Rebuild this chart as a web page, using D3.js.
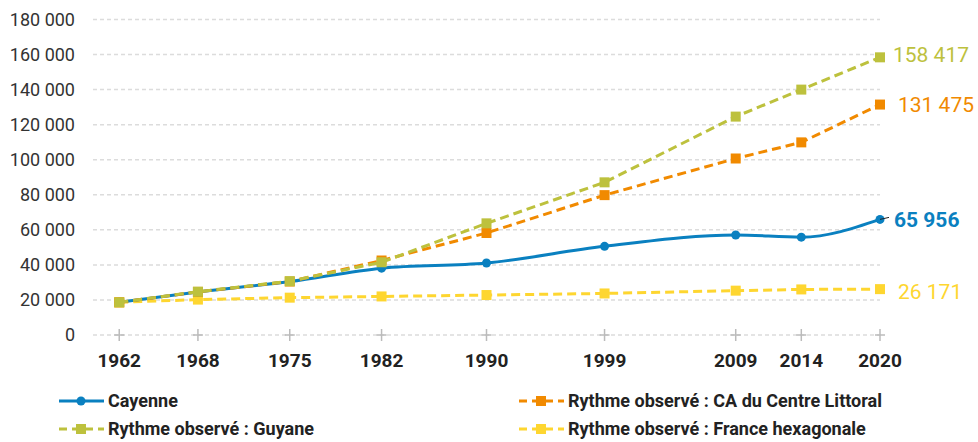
<!DOCTYPE html>
<html>
<head>
<meta charset="utf-8">
<script src="https://cdn.jsdelivr.net/npm/d3@7"></script>
<style>
  body { margin: 0; background: #fff; }
  #chart text { font-family: Roboto, "Noto Sans", sans-serif; }
</style>
</head>
<body>
<div id="chart"></div>
<script>
const annees = [1962, 1968, 1975, 1982, 1990, 1999, 2009, 2014, 2020];
const cayenne = [18635, 24518, 30461, 38135, 41067, 50594, 57047, 55817, 65956];
const caLittoral = [18635, 24600, 30500, 42500, 58200, 79800, 100700, 109900, 131475];
const guyane = [18635, 24700, 30700, 41500, 63700, 87100, 124600, 140000, 158417];
const france = [18635, 20200, 21300, 22000, 22800, 23700, 25300, 26000, 26171];
const yTicks = [0, 20000, 40000, 60000, 80000, 100000, 120000, 140000, 160000, 180000];

const series = [
    { nom: "Cayenne", valeurs: cayenne, couleur: "#0a80c0", dash: null, marker: "circle", courbe: d3.curveMonotoneX, bold: true },
    { nom: "Rythme observé : CA du Centre Littoral", valeurs: caLittoral, couleur: "#f18a00", dash: "9,5", marker: "square", courbe: d3.curveLinear, bold: false },
    { nom: "Rythme observé : Guyane", valeurs: guyane, couleur: "#bdc13d", dash: "9,5", marker: "square", courbe: d3.curveLinear, bold: false },
    { nom: "Rythme observé : France hexagonale", valeurs: france, couleur: "#fed630", dash: "9,5", marker: "square", courbe: d3.curveLinear, bold: false }
];

const width = 978;
const height = 442;
const fmt = v => d3.format(",")(v).replace(/,/g, " ");

const svg = d3.select("#chart").append("svg")
    .attr("width", width)
    .attr("height", height);

const x = d3.scaleLinear().domain([1960, 2020]).range([93, 880]);
const y = d3.scaleLinear().domain([0, 180000]).range([335, 19.5]);

// grille
svg.append("g").selectAll("line")
    .data(yTicks)
    .enter().append("line")
    .attr("x1", x(1960)).attr("x2", x(2020))
    .attr("y1", d => y(d)).attr("y2", d => y(d))
    .attr("stroke", "#dcdcdc")
    .attr("stroke-width", 1.5)
    .attr("stroke-dasharray", "4,3");

// axe y
svg.append("g").selectAll("text")
    .data(yTicks)
    .enter().append("text")
    .attr("x", 75)
    .attr("y", d => y(d))
    .attr("dy", "0.35em")
    .attr("text-anchor", "end")
    .attr("fill", "#333")
    .style("font-size", "18px")
    .text(d => fmt(d));

// axe x : croix + libellés
const xAxe = svg.append("g");
xAxe.selectAll("line.v")
    .data(annees).enter().append("line")
    .attr("x1", d => x(d)).attr("x2", d => x(d))
    .attr("y1", y(0) - 6).attr("y2", y(0) + 6)
    .attr("stroke", "#bbb").attr("stroke-width", 1.5);
xAxe.selectAll("line.h")
    .data(annees).enter().append("line")
    .attr("x1", d => x(d) - 5).attr("x2", d => x(d) + 5)
    .attr("y1", y(0)).attr("y2", y(0))
    .attr("stroke", "#bbb").attr("stroke-width", 1.5);
xAxe.selectAll("text")
    .data(annees).enter().append("text")
    .attr("x", d => x(d))
    .attr("y", 367)
    .attr("text-anchor", "middle")
    .attr("fill", "#222")
    .style("font-size", "19px")
    .style("font-weight", "bold")
    .text(d => d);

// courbes (ordre de dessin : France, Cayenne, CA, Guyane)
const ordre = [series[3], series[0], series[1], series[2]];
ordre.forEach(s => {
    const pts = annees.map((a, i) => [a, s.valeurs[i]]);
    const line = d3.line().x(d => x(d[0])).y(d => y(d[1])).curve(s.courbe);
    svg.append("path")
        .datum(pts)
        .attr("d", line)
        .attr("fill", "none")
        .attr("stroke", s.couleur)
        .attr("stroke-width", 3)
        .attr("stroke-dasharray", s.dash);
    const g = svg.append("g");
    if (s.marker === "circle") {
        g.selectAll("circle").data(pts).enter().append("circle")
            .attr("cx", d => x(d[0])).attr("cy", d => y(d[1]))
            .attr("r", 4.5).attr("fill", s.couleur);
    } else {
        g.selectAll("rect").data(pts).enter().append("rect")
            .attr("x", d => x(d[0]) - 5).attr("y", d => y(d[1]) - 5)
            .attr("width", 10).attr("height", 10).attr("fill", s.couleur);
    }
});

// étiquettes finales
const dernier = annees.length - 1;
svg.append("line")
    .attr("x1", x(2020)).attr("y1", y(cayenne[dernier]))
    .attr("x2", x(2020) + 9).attr("y2", y(cayenne[dernier]) - 2)
    .attr("stroke", "#222").attr("stroke-width", 1);
const decalage = [0, 0, -3, 3];
series.forEach((s, i) => {
    svg.append("text")
        .attr("x", i === 0 ? 894 : (i === 2 ? 893 : 898))
        .attr("y", y(s.valeurs[dernier]) + decalage[i])
        .attr("dy", "0.35em")
        .attr("fill", s.couleur)
        .style("font-size", "21px")
        .style("font-weight", s.bold ? "bold" : "normal")
        .text(fmt(s.valeurs[dernier]));
});

// légende
const legendePos = [
    { x: 59, y: 401 },
    { x: 519, y: 401 },
    { x: 59, y: 429 },
    { x: 519, y: 429 }
];
series.forEach((s, i) => {
    const p = legendePos[i];
    const g = svg.append("g").attr("transform", `translate(${p.x},${p.y})`);
    g.append("line")
        .attr("x1", 0).attr("x2", 45).attr("y1", 0).attr("y2", 0)
        .attr("stroke", s.couleur).attr("stroke-width", 3)
        .attr("stroke-dasharray", s.dash ? "8,5" : null);
    if (s.marker === "circle") {
        g.append("circle").attr("cx", 22).attr("cy", 0).attr("r", 4.5).attr("fill", s.couleur);
    } else {
        g.append("rect").attr("x", 17).attr("y", -5).attr("width", 10).attr("height", 10).attr("fill", s.couleur);
    }
    g.append("text")
        .attr("x", 49)
        .attr("dy", "0.35em")
        .attr("fill", "#222")
        .style("font-size", "18px")
        .style("font-weight", "bold")
        .text(s.nom);
});
</script>
</body>
</html>
